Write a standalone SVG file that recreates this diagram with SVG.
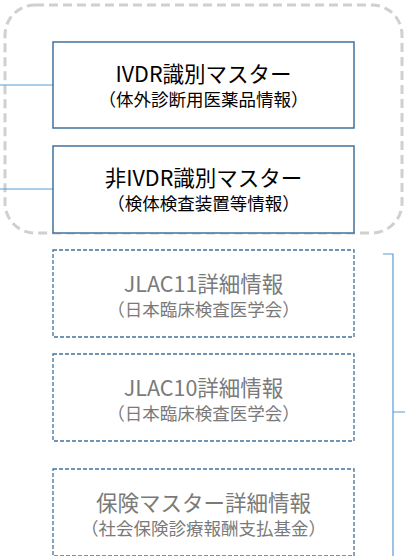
<svg xmlns="http://www.w3.org/2000/svg" width="406" height="556" viewBox="0 0 406 556">
<style>
.bg{fill:#fff}
.grp{fill:none;stroke:#d0d0d0;stroke-width:3;stroke-dasharray:9,5}
.solid{fill:#fff;stroke:#41719c;stroke-width:1.5}
.dash{fill:#fff;stroke:#41719c;stroke-width:1.3;stroke-dasharray:4,2}
.conn{fill:none;stroke:#5b9bd5;stroke-width:1.2}
.t{font-family:"Noto Sans CJK JP","Noto Sans",sans-serif;text-anchor:middle}
.main{font-size:21.5px;fill:#000}
.sub{font-size:17.5px;fill:#000}
.g{fill:#7a7a7a}
</style>
<rect class="bg" x="0" y="0" width="406" height="556"/>
<rect class="grp" x="5" y="5" width="397" height="228" rx="30" ry="30"/>
<g id="connectors">
<line class="conn" x1="0" y1="85" x2="53" y2="85"/>
<line class="conn" x1="0" y1="189" x2="53" y2="189"/>
<path class="conn" d="M383,254 H393 V412 H405 M393,412 V556"/>
</g>
<g id="ivdr">
<rect class="solid" x="53" y="42" width="301" height="86"/>
<text class="t main" x="203.5" y="82">IVDR識別マスター</text>
<text class="t sub" x="203.5" y="106">（体外診断用医薬品情報）</text>
</g>
<g id="non-ivdr">
<rect class="solid" x="53" y="146" width="301" height="87"/>
<text class="t main" x="203.5" y="186">非IVDR識別マスター</text>
<text class="t sub" x="203.5" y="210">（検体検査装置等情報）</text>
</g>
<g id="jlac11">
<rect class="dash" x="53" y="250" width="301" height="87"/>
<text class="t main g" x="203.5" y="292">JLAC11詳細情報</text>
<text class="t sub g" x="203.5" y="316">（日本臨床検査医学会）</text>
</g>
<g id="jlac10">
<rect class="dash" x="53" y="354" width="301" height="87"/>
<text class="t main g" x="203.5" y="396">JLAC10詳細情報</text>
<text class="t sub g" x="203.5" y="420">（日本臨床検査医学会）</text>
</g>
<g id="hoken">
<rect class="dash" x="53" y="469" width="301" height="87"/>
<text class="t main g" x="203.5" y="511">保険マスター詳細情報</text>
<text class="t sub g" x="203.5" y="535">（社会保険診療報酬支払基金）</text>
</g>
</svg>
